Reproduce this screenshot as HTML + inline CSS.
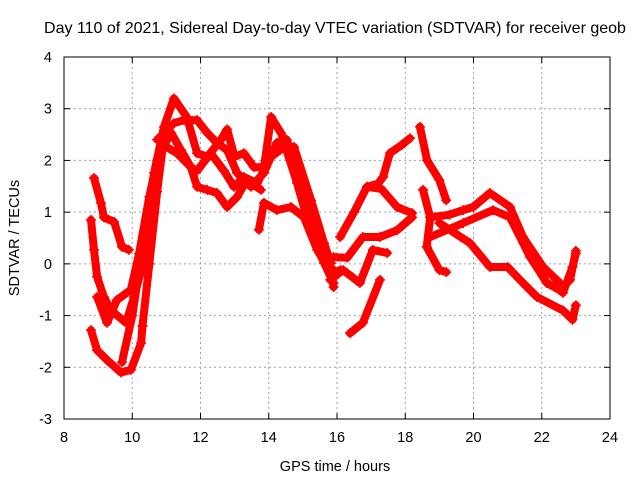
<!DOCTYPE html>
<html><head><meta charset="utf-8"><style>
body{margin:0;background:#fff;}
svg{display:block;font-family:"Liberation Sans",Arial,sans-serif;}
</style></head><body>
<svg id="chart" width="640" height="480" viewBox="0 0 640 480">
<rect x="0" y="0" width="640" height="480" fill="#fff"/>
<text x="335" y="33" font-size="16" text-anchor="middle" fill="#000">Day 110 of 2021, Sidereal Day-to-day VTEC variation (SDTVAR) for receiver geob</text>
<g id="grid"></g>
<g id="series"></g>
<rect x="64" y="57" width="546" height="362" fill="none" stroke="#000" stroke-width="1"/>
<g id="ticks"></g>
<text x="335" y="471" font-size="14.5" text-anchor="middle">GPS time / hours</text>
<text transform="translate(19,238) rotate(-90)" font-size="14.5" text-anchor="middle">SDTVAR / TECUs</text>
</svg>
<script>
const xTicks=[8,10,12,14,16,18,20,22,24];
const yTicks=[-3,-2,-1,0,1,2,3,4];
const traceB=[[8.88,1.66],[9.08,1.18],[9.17,0.9],[9.47,0.81],[9.7,0.33],[9.9,0.27]];
const traceC=[[8.79,0.85],[8.88,0.27],[8.97,-0.25],[9.17,-0.64],[9.38,-0.9],[9.82,-1.14],[10.05,-0.64],[10.29,-0.06],[10.6,1.2],[10.85,2.2]];
const traceD=[[8.79,-1.28],[8.97,-1.67],[9.26,-1.86],[9.67,-2.1],[9.96,-2.05],[10.26,-1.53],[10.3,-1.2]];
const traceE=[[8.97,-0.64],[9.26,-1.14],[9.55,-0.7],[9.96,-0.5],[10.2,0.2],[10.5,1.3],[10.73,2.0]];
const trace1=[[9.7,-1.9],[10.0,-1.0],[10.26,0.13],[10.64,1.76],[10.93,2.65],[11.22,3.2],[11.6,2.84],[11.9,2.14],[12.2,2.07],[12.6,2.4],[12.78,2.6],[13.0,2.07],[13.27,2.14],[13.57,1.87],[13.86,1.87],[14.07,2.84],[14.36,2.53],[14.83,1.56],[15.24,0.6],[15.82,-0.06],[15.9,-0.45]];
const traceF=[[10.73,2.4],[11.22,2.72],[11.52,2.78],[11.9,2.78],[12.2,2.53],[12.48,2.34],[12.78,2.2],[13.07,1.76],[13.48,1.49],[13.86,1.76],[14.24,2.34],[14.53,2.4],[14.83,1.76],[15.24,0.79],[15.62,0.02],[15.9,-0.37]];
const traceG=[[10.85,2.2],[11.14,2.53],[11.43,2.2],[11.72,1.87],[11.9,1.8],[12.3,2.14],[12.69,1.8],[12.98,1.49],[13.27,1.68],[13.66,1.56],[14.07,2.07],[14.45,2.26],[14.74,2.26],[15.24,1.23],[15.62,0.4],[15.82,0.02]];
const traceH=[[10.3,-1.2],[10.5,0.0],[10.73,1.4],[10.9,2.3],[11.31,2.14],[11.72,1.87],[11.9,1.49],[12.2,1.43],[12.48,1.37],[12.78,1.1],[13.07,1.29],[13.36,1.62],[13.77,1.43]];
const traceI=[[13.71,0.66],[13.86,1.18],[14.24,1.04],[14.65,1.1],[15.03,0.9],[15.42,0.27],[15.82,-0.18],[16.1,-0.12]];
const traceJ=[[16.09,0.52],[16.5,1.0],[16.88,1.49],[17.2,1.55],[17.35,1.68],[17.55,2.14],[17.9,2.3],[18.14,2.43]];
const traceK=[[16.88,1.49],[17.3,1.45],[17.76,1.1],[18.2,0.98]];
const traceL=[[15.9,0.13],[16.3,0.12],[16.76,0.52],[17.26,0.52],[17.76,0.65],[18.2,0.9]];
const traceM=[[15.8,-0.31],[16.18,-0.12],[16.67,-0.37],[17.05,0.27],[17.47,0.21]];
const traceN=[[16.38,-1.34],[16.76,-1.14],[17.26,-0.31]];
const traceO=[[18.43,2.65],[18.64,2.0],[19.0,1.62],[19.2,1.23]];
const traceP=[[18.52,1.43],[18.73,0.9],[18.63,0.33],[19.0,-0.12],[19.2,-0.16]];
const traceQ=[[18.73,0.9],[19.3,0.95],[19.7,1.04],[19.99,1.1],[20.48,1.37],[21.07,1.1],[21.45,0.52],[22.04,-0.06],[22.53,-0.37],[22.62,-0.56],[22.9,-0.06],[23.0,0.2]];
const traceR=[[18.73,0.52],[19.7,0.79],[20.57,1.04],[21.07,0.9],[21.66,0.13],[22.15,-0.37],[22.5,-0.5],[22.83,-0.31],[23.0,0.25]];
const traceS=[[19.0,0.79],[19.9,0.4],[20.48,-0.06],[21.0,-0.06],[21.45,-0.37],[21.86,-0.64],[22.62,-0.9],[22.9,-1.08],[23.0,-0.8]];
const traces=[traceB,traceC,traceD,traceE,trace1,traceF,traceG,traceH,traceI,traceJ,traceK,traceL,traceM,traceN,traceO,traceP,traceQ,traceR,traceS];

const X0=64,X1=610,Y0=419,Y1=57;
function sx(t){return X0+(t-8)/(24-8)*(X1-X0);}
function sy(v){return Y0-(v+3)/(4+3)*(Y0-Y1);}
const NS='http://www.w3.org/2000/svg';
const grid=document.getElementById('grid'),ticks=document.getElementById('ticks'),ser=document.getElementById('series');
function mk(tag,attrs,parent){const e=document.createElementNS(NS,tag);for(const k in attrs)e.setAttribute(k,attrs[k]);parent.appendChild(e);return e;}
xTicks.forEach(t=>{
  const x=sx(t);
  if(t>8&&t<24){const g=mk('line',{x1:x,y1:Y1,x2:x,y2:Y0,stroke:'#a0a0a0','stroke-dasharray':'2,3'},grid);
  
  }
  const a=mk('line',{x1:x,y1:Y0,x2:x,y2:Y0-6,stroke:'#000'},ticks);
  
  
  const b=mk('line',{x1:x,y1:Y1,x2:x,y2:Y1+6,stroke:'#000'},ticks);
  
  
  const l=mk('text',{x:x,y:442,'font-size':'14.5','text-anchor':'middle'},ticks);l.textContent=t;
  
  
});
yTicks.forEach(v=>{
  const y=sy(v);
  if(v>-3&&v<4){const g=mk('line',{x1:X0,y1:y,x2:X1,y2:y,stroke:'#a0a0a0','stroke-dasharray':'2,3'},grid);
  
  }
  const a=mk('line',{x1:X0,y1:y,x2:X0+6,y2:y,stroke:'#000'},ticks);
  
  
  const b=mk('line',{x1:X1,y1:y,x2:X1-6,y2:y,stroke:'#000'},ticks);
  
  
  const l=mk('text',{x:52,y:y+5,'font-size':'14.5','text-anchor':'end'},ticks);l.textContent=v;
  
  
});
traces.forEach((tr,i)=>{
  const pts=tr.map(p=>sx(p[0]).toFixed(1)+','+sy(p[1]).toFixed(1)).join(' ');
  const pl=mk('polyline',{points:pts,fill:'none',stroke:'#ff0000','stroke-width':'8','stroke-linejoin':'round','stroke-linecap':'round'},ser);
  
  
  tr.forEach(p=>{
    const x=sx(p[0]),y=sy(p[1]);
    const m=mk('path',{d:`M${x-5},${y}H${x+5}M${x},${y-5}V${y+5}`,stroke:'#ff0000','stroke-width':'1.5'},ser);
    
    
  });
});
</script>
</body></html>
